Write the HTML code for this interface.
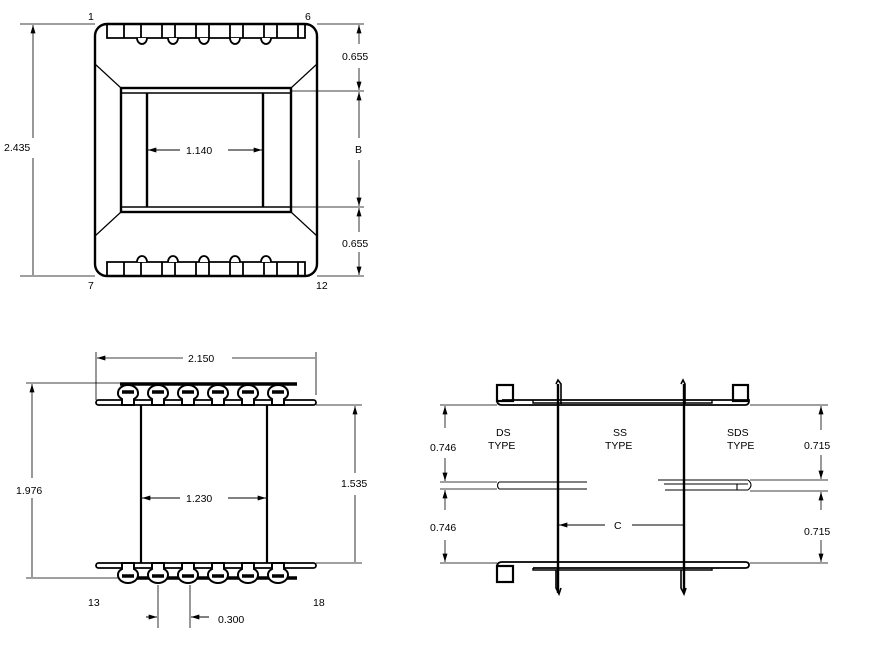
<!DOCTYPE html>
<html><head><style>html,body{margin:0;padding:0;background:#fff}svg{display:block}text{font-family:"Liberation Sans",sans-serif;font-size:10.5px;fill:#000}</style></head>
<body>
<svg width="870" height="672" viewBox="0 0 870 672" xmlns="http://www.w3.org/2000/svg">
<defs>
<marker id="a" viewBox="0 0 10 6" refX="10" refY="3" markerWidth="10" markerHeight="5" markerUnits="userSpaceOnUse" orient="auto-start-reverse"><path d="M0,0L10,3L0,6z" fill="#000"/></marker>
</defs>
<g stroke="#000" fill="none">
<!-- TOP VIEW -->
<rect x="95" y="24" width="222" height="252" rx="12" stroke-width="2.4"/>
<g stroke-width="1.8">
<path d="M107 24V38H305V24"/>
<path d="M124 24V38M141 24V38M162 24V38M175 24V38M196 24V38M209 24V38M230 24V38M243 24V38M264 24V38M277 24V38M298 24V38"/>
<path d="M107 276V262H305V276"/>
<path d="M124 276V262M141 276V262M162 276V262M175 276V262M196 276V262M209 276V262M230 276V262M243 276V262M264 276V262M277 276V262M298 276V262"/>
</g>
<g stroke-width="1.8" fill="#fff">
<path d="M137 38a5 6 0 0 0 10 0"/><path d="M168 38a5 6 0 0 0 10 0"/><path d="M199 38a5 6 0 0 0 10 0"/><path d="M230 38a5 6 0 0 0 10 0"/><path d="M261 38a5 6 0 0 0 10 0"/>
<path d="M137 262a5 6 0 0 1 10 0"/><path d="M168 262a5 6 0 0 1 10 0"/><path d="M199 262a5 6 0 0 1 10 0"/><path d="M230 262a5 6 0 0 1 10 0"/><path d="M261 262a5 6 0 0 1 10 0"/>
</g>
<path d="M95 64L121 88M317 64L291 88M95 236L121 212M317 236L291 212" stroke-width="1.2"/>
<rect x="121" y="88" width="170" height="124" stroke-width="2.4"/>
<path d="M121 93H291M121 207H291" stroke-width="1.4"/>
<path d="M147 93V207M263 93V207" stroke-width="2.4"/>
<path d="M148 150H180M228 150H262" stroke-width="1" marker-start="url(#a)" marker-end="url(#a)"/>
<path d="M20 24H95M20 276H95" stroke-width="0.8"/>
<path d="M33 25V138M33 158V275" stroke-width="0.8" marker-start="url(#a)"/>
<path d="M317 24H364M291 91H364M291 207H364M317 276H364" stroke-width="0.8"/>
<path d="M359 25V44" marker-start="url(#a)" stroke-width="0.8"/><path d="M359 68V90" marker-end="url(#a)" stroke-width="0.8"/>
<path d="M359 92V138" marker-start="url(#a)" stroke-width="0.8"/><path d="M359 160V206" marker-end="url(#a)" stroke-width="0.8"/>
<path d="M359 208V232" marker-start="url(#a)" stroke-width="0.8"/><path d="M359 252V275" marker-end="url(#a)" stroke-width="0.8"/>

<!-- BOTTOM LEFT VIEW -->
<path d="M96 352V400M316 352V395" stroke-width="0.8"/>
<path d="M97 358H183M232 358H315" stroke-width="0.8" marker-start="url(#a)"/>
<path d="M26 383H120M26 578H120" stroke-width="0.8"/>
<path d="M32 384V478M32 498V577" stroke-width="0.8" marker-start="url(#a)"/>
<path d="M316 405H362M316 563H362" stroke-width="0.8"/>
<path d="M355 406V473M355 495V562" stroke-width="0.8" marker-start="url(#a)"/>
<path d="M120 384H297" stroke-width="3.5"/>
<path d="M120 578H297" stroke-width="3.5"/>
<rect x="96" y="400" width="220" height="5" rx="2.5" stroke-width="1.8"/>
<rect x="96" y="563" width="220" height="5" rx="2.5" stroke-width="1.8"/>
<g stroke-width="2" fill="#fff">
<g id="pt"><path d="M118 393a10 8 0 0 1 20 0a10 7 0 0 1-4 6v6h-12v-6a10 7 0 0 1-4-6z"/><path d="M122 392h12" stroke-width="3.5"/></g>
<use href="#pt" x="30"/><use href="#pt" x="60"/><use href="#pt" x="90"/><use href="#pt" x="120"/><use href="#pt" x="150"/>
<g id="pb"><path d="M118 575a10 8 0 0 0 20 0a10 7 0 0 0-4-6v-6h-12v6a10 7 0 0 0-4 6z"/><path d="M122 576h12" stroke-width="3.5"/></g>
<use href="#pb" x="30"/><use href="#pb" x="60"/><use href="#pb" x="90"/><use href="#pb" x="120"/><use href="#pb" x="150"/>
</g>
<path d="M141 405V563M267 405V563" stroke-width="2.2"/>
<path d="M142 498H180M228 498H266" stroke-width="1" marker-start="url(#a)" marker-end="url(#a)"/>
<path d="M158 585V628M190 585V628" stroke-width="0.8"/>
<path d="M146 617H157" stroke-width="1" marker-end="url(#a)"/>
<path d="M209 617H191" stroke-width="1" marker-end="url(#a)"/>

<!-- RIGHT VIEW -->
<rect x="497" y="385" width="16" height="16" stroke-width="2.2"/>
<rect x="733" y="385" width="15" height="16" stroke-width="2.2"/>
<rect x="497" y="566" width="16" height="16" stroke-width="2.2"/>
<path d="M497 400q0 5 5 5H745q4 0 4-4V400H502" stroke-width="1.8"/>
<path d="M533 400V403H712V400" stroke-width="1.4"/>
<path d="M497 567q0-5 5-5H745q4 0 4 3t-4 3H533" stroke-width="1.8"/>
<path d="M533 568V570H712V568" stroke-width="1.4"/>
<path d="M558 384V593M684 384V593" stroke-width="2.4"/>
<path d="M556 384l2-4 3 4v20M681 384l2-4 2 4v20" stroke-width="1.6"/>
<path d="M556 570v18l3 6 2-6M681 570v18l3 6 2-6" stroke-width="1.6"/>
<path d="M440 405H497M440 563H497M750 405H828M750 563H828" stroke-width="0.8"/>
<path d="M440 482H497M440 489H497" stroke-width="0.8"/>
<path d="M499 482H587M499 489H587M499 482q-3 3.5 0 7" stroke-width="1.1"/>
<path d="M658 480H748M664 484H748M665 490H748M748 480q6 5 0 10M737 484v6" stroke-width="1.1"/>
<path d="M750 480H828M750 491H828" stroke-width="0.8"/>
<path d="M445 406V428" stroke-width="0.8" marker-start="url(#a)"/><path d="M445 458V481" stroke-width="0.8" marker-end="url(#a)"/>
<path d="M445 490V510" stroke-width="0.8" marker-start="url(#a)"/><path d="M445 540V562" stroke-width="0.8" marker-end="url(#a)"/>
<path d="M821 406V430" stroke-width="0.8" marker-start="url(#a)"/><path d="M821 455V479" stroke-width="0.8" marker-end="url(#a)"/>
<path d="M821 492V510" stroke-width="0.8" marker-start="url(#a)"/><path d="M821 540V562" stroke-width="0.8" marker-end="url(#a)"/>
<path d="M559 525H605M632 525H683" stroke-width="1" marker-start="url(#a)"/>
</g>
<g>
<text x="88" y="20">1</text><text x="305" y="20">6</text>
<text x="88" y="289">7</text><text x="316" y="289">12</text>
<text x="4" y="151">2.435</text>
<text x="186" y="154">1.140</text>
<text x="342" y="60">0.655</text>
<text x="355" y="153">B</text>
<text x="342" y="247">0.655</text>
<text x="188" y="362">2.150</text>
<text x="16" y="494">1.976</text>
<text x="186" y="502">1.230</text>
<text x="341" y="487">1.535</text>
<text x="88" y="606">13</text><text x="313" y="606">18</text>
<text x="218" y="623">0.300</text>
<text x="430" y="451">0.746</text><text x="430" y="531">0.746</text>
<text x="804" y="449">0.715</text><text x="804" y="535">0.715</text>
<text x="496" y="436">DS</text><text x="488" y="449">TYPE</text>
<text x="613" y="436">SS</text><text x="605" y="449">TYPE</text>
<text x="727" y="436">SDS</text><text x="727" y="449">TYPE</text>
<text x="614" y="529">C</text>
</g>
</svg>
</body></html>
